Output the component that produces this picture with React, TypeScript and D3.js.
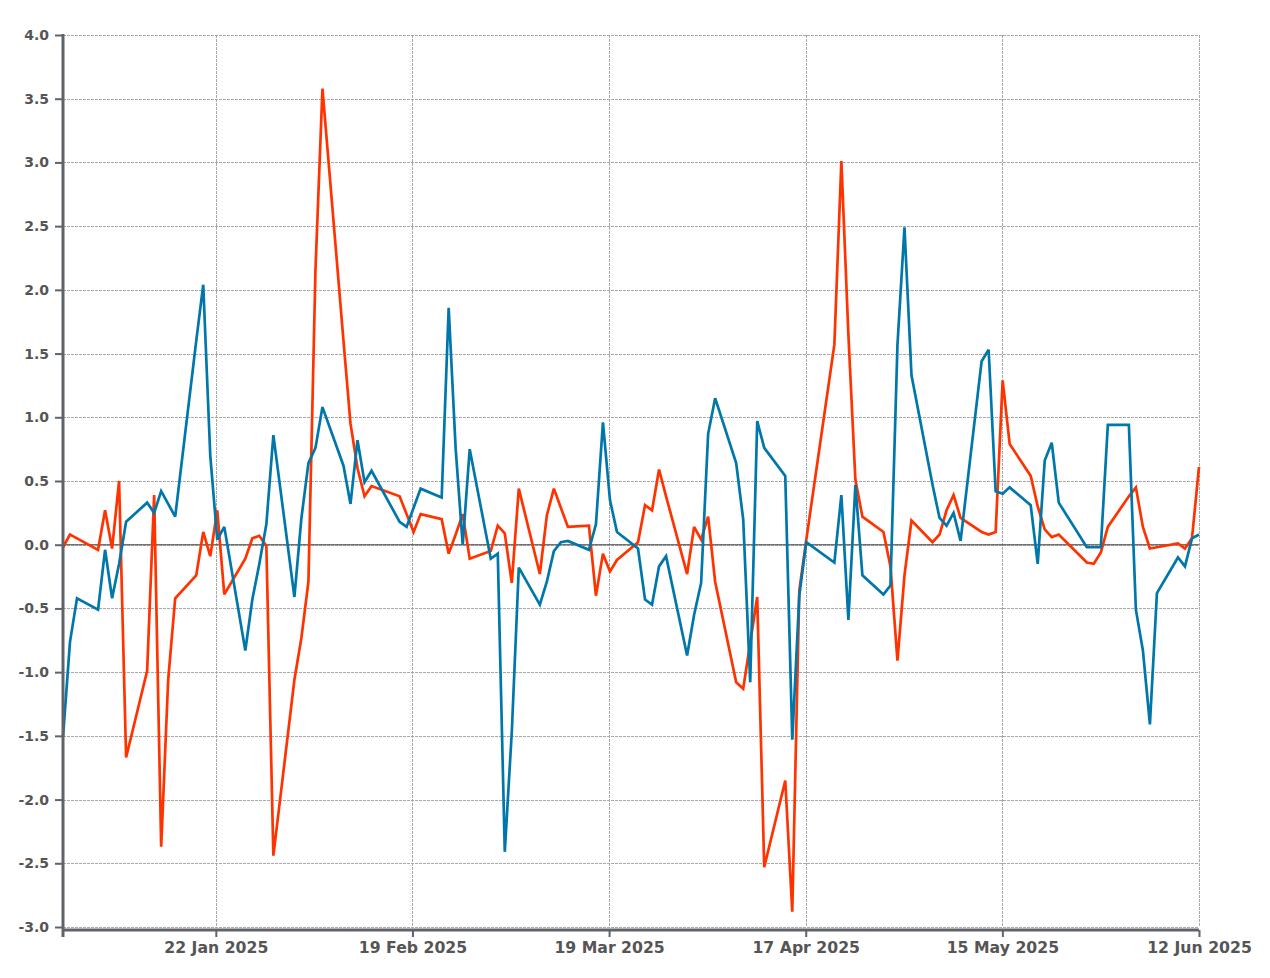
import React, { useEffect, useRef } from 'react';
import * as d3 from 'd3';

// trading days shown in the chart
const dates = [
  '2025-01-01', '2025-01-02', '2025-01-03', '2025-01-06', '2025-01-07', '2025-01-08', '2025-01-09', '2025-01-10',
  '2025-01-13', '2025-01-14', '2025-01-15', '2025-01-16', '2025-01-17', '2025-01-20', '2025-01-21', '2025-01-22',
  '2025-01-23', '2025-01-24', '2025-01-27', '2025-01-28', '2025-01-29', '2025-01-30', '2025-01-31',
  '2025-02-03', '2025-02-04', '2025-02-05', '2025-02-06', '2025-02-07', '2025-02-10', '2025-02-11', '2025-02-12',
  '2025-02-13', '2025-02-14', '2025-02-18', '2025-02-19', '2025-02-20', '2025-02-21', '2025-02-24', '2025-02-25',
  '2025-02-26', '2025-02-27', '2025-02-28',
  '2025-03-03', '2025-03-04', '2025-03-05', '2025-03-06', '2025-03-07', '2025-03-10', '2025-03-11', '2025-03-12',
  '2025-03-13', '2025-03-14', '2025-03-17', '2025-03-18', '2025-03-19', '2025-03-20', '2025-03-21', '2025-03-24',
  '2025-03-25', '2025-03-26', '2025-03-27', '2025-03-28', '2025-03-31',
  '2025-04-01', '2025-04-02', '2025-04-03', '2025-04-04', '2025-04-07', '2025-04-08', '2025-04-09', '2025-04-10',
  '2025-04-11', '2025-04-14', '2025-04-15', '2025-04-16', '2025-04-17', '2025-04-21', '2025-04-22', '2025-04-23',
  '2025-04-24', '2025-04-25', '2025-04-28', '2025-04-29', '2025-04-30',
  '2025-05-01', '2025-05-02', '2025-05-05', '2025-05-06', '2025-05-07', '2025-05-08', '2025-05-09', '2025-05-12',
  '2025-05-13', '2025-05-14', '2025-05-15', '2025-05-16', '2025-05-19', '2025-05-20', '2025-05-21', '2025-05-22',
  '2025-05-23', '2025-05-27', '2025-05-28', '2025-05-29', '2025-05-30',
  '2025-06-02', '2025-06-03', '2025-06-04', '2025-06-05', '2025-06-06', '2025-06-09', '2025-06-10', '2025-06-11',
  '2025-06-12',
];

const blueValues = [
  -1.51, -0.76, -0.42, -0.51, -0.04, -0.42, -0.15, 0.18, 0.33, 0.25, 0.42, 0.32, 0.22, 1.6, 2.04, 0.7,
  0.04, 0.14, -0.83, -0.43, -0.15, 0.16, 0.86,
  -0.41, 0.21, 0.64, 0.76, 1.08, 0.62, 0.32, 0.82, 0.49, 0.58, 0.18, 0.14, 0.29, 0.44, 0.37, 1.86,
  0.75, 0.0, 0.75,
  -0.11, -0.07, -2.41, -1.47, -0.18, -0.47, -0.29, -0.05, 0.02, 0.03, -0.04, 0.16, 0.96, 0.35, 0.1, -0.03,
  -0.43, -0.47, -0.17, -0.09, -0.87,
  -0.55, -0.3, 0.87, 1.15, 0.64, 0.2, -1.08, 0.97, 0.76, 0.54, -1.53, -0.4, 0.02, -0.14, 0.39, -0.59,
  0.47, -0.24, -0.39, -0.32, 1.57,
  2.49, 1.33, 0.47, 0.21, 0.15, 0.25, 0.03, 1.44, 1.53, 0.42, 0.4, 0.45, 0.31, -0.15, 0.66, 0.8,
  0.33, -0.02, -0.02, -0.02, 0.94,
  0.94, -0.51, -0.83, -1.41, -0.38, -0.1, -0.17, 0.05, 0.08,
];

const redValues = [
  -0.02, 0.08, 0.05, -0.04, 0.27, -0.03, 0.5, -1.67, -0.99, 0.39, -2.37, -1.06, -0.42, -0.24, 0.1, -0.09,
  0.27, -0.39, -0.11, 0.05, 0.07, -0.01, -2.44,
  -1.06, -0.73, -0.29, 2.15, 3.58, 1.6, 0.95, 0.6, 0.38, 0.46, 0.38, 0.24, 0.1, 0.24, 0.2, -0.07,
  0.08, 0.24, -0.11,
  -0.05, 0.15, 0.09, -0.3, 0.44, -0.23, 0.23, 0.44, 0.29, 0.14, 0.15, -0.4, -0.07, -0.21, -0.12, 0.02,
  0.31, 0.27, 0.59, 0.38, -0.23,
  0.14, 0.04, 0.22, -0.29, -1.08, -1.13, -0.77, -0.41, -2.53, -1.85, -2.88, -0.36, 0.04, 1.57, 3.01, 1.65,
  0.51, 0.22, 0.1, -0.17, -0.91,
  -0.24, 0.19, 0.02, 0.08, 0.27, 0.39, 0.21, 0.1, 0.08, 0.1, 1.29, 0.79, 0.54, 0.3, 0.12, 0.06,
  0.08, -0.14, -0.15, -0.06, 0.14,
  0.38, 0.45, 0.14, -0.03, -0.02, 0.01, -0.03, 0.05, 0.61,
];

const xTickLabels = ['22 Jan 2025', '19 Feb 2025', '19 Mar 2025', '17 Apr 2025', '15 May 2025', '12 Jun 2025'];
const yTicks = [-3, -2.5, -2, -1.5, -1, -0.5, 0, 0.5, 1, 1.5, 2, 2.5, 3, 3.5, 4];

const W = 1270;
const H = 978;

const parse = d3.timeParse('%Y-%m-%d');

const Chart: React.FC = () => {
  const svgRef = useRef<SVGSVGElement>(null);

  useEffect(() => {
    if (!svgRef.current) return;
    const svg = d3.select(svgRef.current);
    svg.selectAll('*').remove();

    const left = 63, right = 1199, top = 35, bottom = 927;
    const axisY = bottom + 3;
    const axisColor = '#606368';
    const textColor = '#555';

    const parsed = dates.map(d => parse(d) as Date);
    const x = d3.scaleTime()
      .domain([parsed[0], parsed[parsed.length - 1]])
      .range([left, right]);
    const y = d3.scaleLinear().domain([-3, 4]).range([bottom, top]);

    // ticks are spread evenly from late 22 Jan to the last day
    const tickStart = new Date(2025, 0, 22, 19);
    const tickEnd = parsed[parsed.length - 1];
    const xTicks = xTickLabels.map((_, i) =>
      new Date(+tickStart + (i * (+tickEnd - +tickStart)) / (xTickLabels.length - 1)));

    // grid
    const grid = svg.append('g')
      .attr('stroke', '#a8a8a8')
      .attr('stroke-width', 1)
      .attr('stroke-dasharray', '2.5,1.5')
      .attr('shape-rendering', 'crispEdges');
    grid.selectAll('.hgrid')
      .data(yTicks)
      .enter().append('line')
      .attr('x1', left).attr('x2', right)
      .attr('y1', d => Math.round(y(d)) + 0.5).attr('y2', d => Math.round(y(d)) + 0.5);
    grid.selectAll('.vgrid')
      .data(xTicks)
      .enter().append('line')
      .attr('x1', d => Math.round(x(d)) + 0.5).attr('x2', d => Math.round(x(d)) + 0.5)
      .attr('y1', top).attr('y2', bottom);

    // zero line
    svg.append('line')
      .attr('x1', left).attr('x2', right)
      .attr('y1', y(0)).attr('y2', y(0))
      .attr('stroke', '#444')
      .attr('stroke-width', 1.1);

    // series
    const line = d3.line<number>()
      .x((_, i) => x(parsed[i]))
      .y(d => y(d));

    svg.append('path')
      .datum(redValues)
      .attr('d', line)
      .attr('fill', 'none')
      .attr('stroke', '#ff3300')
      .attr('stroke-width', 2.7)
      .attr('stroke-linejoin', 'miter')
      .attr('stroke-miterlimit', 3);

    svg.append('path')
      .datum(blueValues)
      .attr('d', line)
      .attr('fill', 'none')
      .attr('stroke', '#0077aa')
      .attr('stroke-width', 2.7)
      .attr('stroke-linejoin', 'miter')
      .attr('stroke-miterlimit', 3);

    // axes
    const yAxis = svg.append('g')
      .attr('transform', `translate(${left},0)`)
      .call(d3.axisLeft(y)
        .tickValues(yTicks)
        .tickFormat(d => (+d).toFixed(1))
        .tickSize(8)
        .tickPadding(6));
    yAxis.select('.domain').remove();
    yAxis.selectAll('.tick line').attr('stroke', axisColor).attr('stroke-width', 2);
    yAxis.selectAll('.tick text')
      .attr('fill', textColor)
      .style('font-family', '"DejaVu Sans", sans-serif')
      .style('font-weight', 'bold')
      .style('font-size', '14px');

    const xAxis = svg.append('g')
      .attr('transform', `translate(0,${axisY})`)
      .call(d3.axisBottom(x)
        .tickValues(xTicks)
        .tickFormat((_, i) => xTickLabels[i])
        .tickSize(7)
        .tickPadding(5));
    xAxis.select('.domain').remove();
    xAxis.selectAll('.tick line').attr('stroke', axisColor).attr('stroke-width', 2);
    xAxis.selectAll('.tick text')
      .attr('fill', textColor)
      .style('font-family', '"DejaVu Sans", sans-serif')
      .style('font-weight', 'bold')
      .style('font-size', '15.7px');

    // axis lines
    svg.append('line')
      .attr('x1', left).attr('x2', left)
      .attr('y1', top - 1).attr('y2', axisY + 7)
      .attr('stroke', axisColor)
      .attr('stroke-width', 3);
    svg.append('line')
      .attr('x1', left).attr('x2', right)
      .attr('y1', axisY).attr('y2', axisY)
      .attr('stroke', axisColor)
      .attr('stroke-width', 3);
  }, []);

  return <svg ref={svgRef} width={W} height={H} style={{ display: 'block', background: '#fff' }} />;
};

export default function App() {
  return (
    <div style={{ position: 'absolute', left: 0, top: 0, width: W, height: H, background: '#fff' }}>
      <Chart />
    </div>
  );
}
